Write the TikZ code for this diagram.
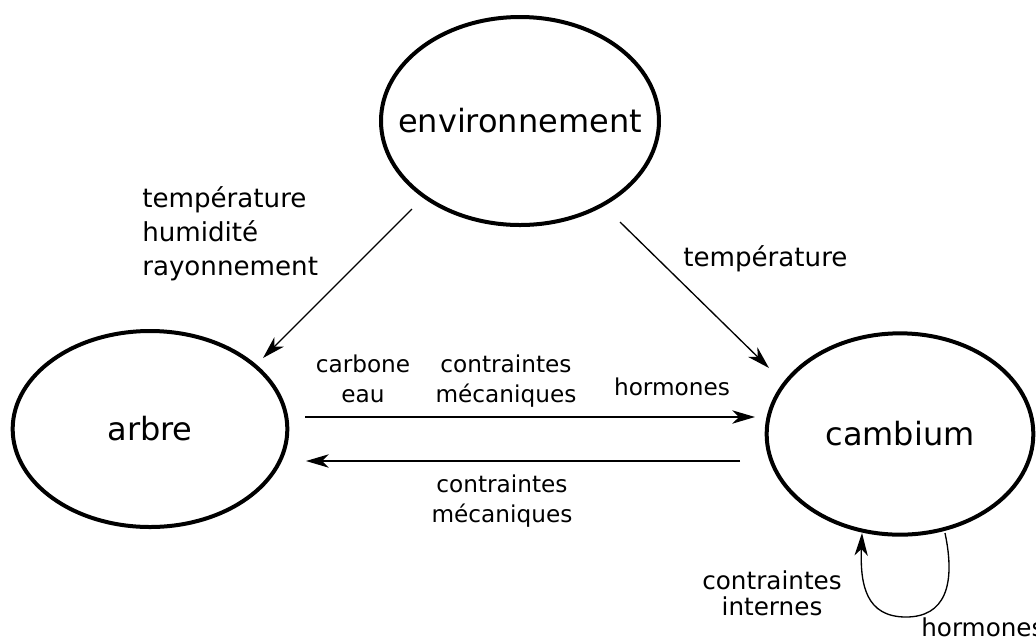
\documentclass[tikz,border=0pt]{standalone}
\usepackage{fontspec}
\setmainfont{DejaVu Sans}
\usetikzlibrary{shapes.geometric,arrows.meta}
\begin{document}
\begin{tikzpicture}[x=0.75pt,y=-0.75pt,
  bubble/.style={ellipse,draw,line width=3pt,inner sep=0pt,font=\fontsize{24}{29}\selectfont},
  conn/.style={line width=1pt,-{Stealth[length=17pt,width=10pt,inset=5pt]}},
  biglab/.style={font=\fontsize{19.6}{25.5}\selectfont,inner sep=0pt},
  midlab/.style={font=\fontsize{17.4}{21.8}\selectfont,inner sep=0pt,align=center},
  loclab/.style={font=\fontsize{18.5}{19.5}\selectfont,inner sep=0pt,align=center}]
\useasboundingbox (0,0) rectangle (1036,637);
\clip (0,0) rectangle (1036,637);
% nodes
\node[bubble,minimum width=208.5pt,minimum height=156pt] (env) at (520,121) {\makebox[0pt]{environnement}};
\node[bubble,minimum width=206pt,minimum height=147pt] (arbre) at (150,429) {\makebox[0pt]{arbre}};
\node[bubble,minimum width=200pt,minimum height=151pt] (cambium) at (900,434) {\makebox[0pt]{cambium}};
% connector end points
\coordinate (a1) at (412,209); \coordinate (a2) at (263,358);
\coordinate (b1) at (620,222); \coordinate (b2) at (769,368);
\coordinate (c1) at (305,417); \coordinate (c2) at (755,417);
\coordinate (d1) at (740,461); \coordinate (d2) at (306,461);
\coordinate (l1) at (945,533); \coordinate (lb) at (906,617); \coordinate (l2) at (862,533);
% connectors
\draw[conn] (a1) -- (a2);
\draw[conn] (b1) -- (b2);
\draw[conn] (c1) -- (c2);
\draw[conn] (d1) -- (d2);
\draw[conn] (l1) .. controls (956,585) and (945,617) .. (lb) .. controls (866,617) and (860,585) .. (l2);
% labels
\node[biglab,anchor=base west,align=left] (envarbre) at (142,275) {température\\humidité\\rayonnement};
\node[biglab,anchor=base west] (envcamb) at (683,266) {température};
\node[midlab,anchor=base] (ce) at (363,402) {carbone\\eau};
\node[midlab,anchor=base] (cm1) at (506,402) {contraintes\\mécaniques};
\node[midlab,anchor=base] (horm1) at (672,395) {hormones};
\node[midlab,anchor=base] (cm2) at (502,522) {contraintes\\mécaniques};
\node[loclab,anchor=base] (ci) at (772,615) {contraintes\\internes};
\node[loclab,anchor=base west] (horm2) at (921,636) {hormones};
\end{tikzpicture}
\end{document}
